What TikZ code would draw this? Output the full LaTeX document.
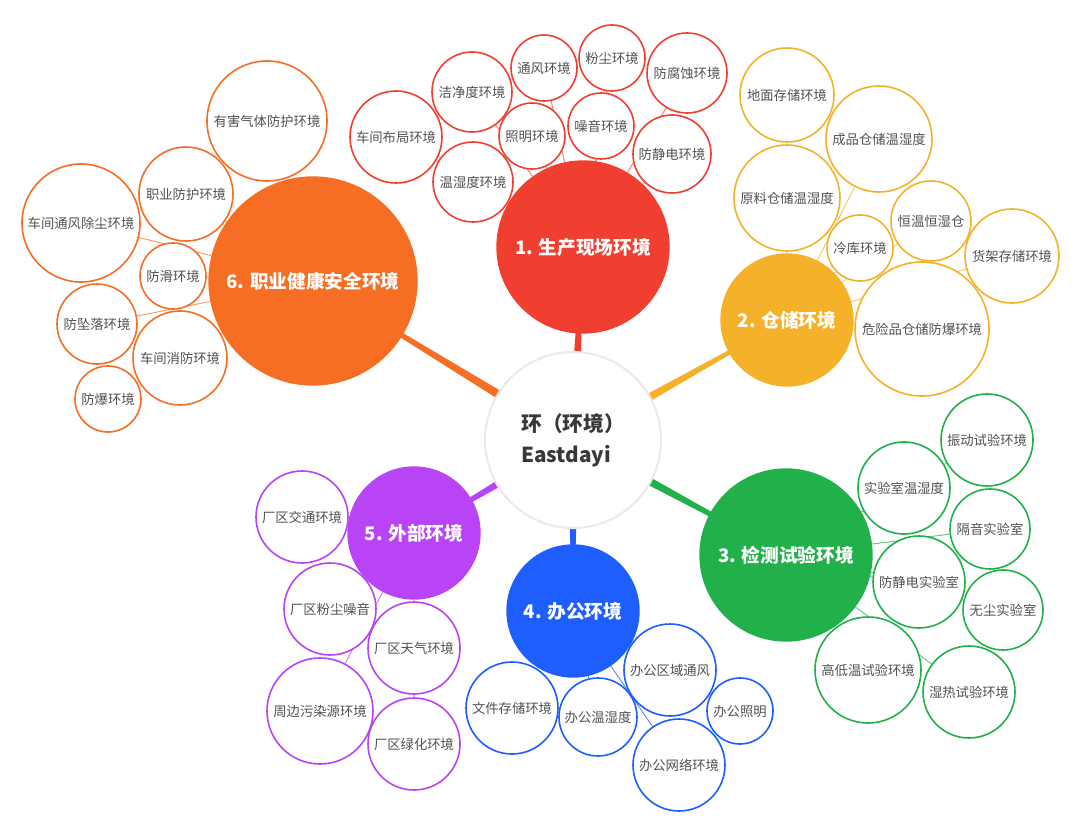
\documentclass[tikz,border=0pt]{standalone}
\usepackage{fontspec}
\setmainfont{Noto Sans CJK SC}
\usetikzlibrary{calc}
\pgfdeclarelayer{bg}
\pgfsetlayers{bg,main}

\definecolor{redc}{RGB}{240,62,48}
\definecolor{ylwc}{RGB}{245,177,41}
\definecolor{grnc}{RGB}{34,176,75}
\definecolor{bluc}{RGB}{30,94,255}
\definecolor{purc}{RGB}{185,68,245}
\definecolor{orgc}{RGB}{245,110,35}
\definecolor{rimc}{RGB}{240,232,236}

\begin{document}
\begin{tikzpicture}[
        x=0.75pt, y=-0.75pt,
        % Stili per i nodi
        root/.style={circle, fill=white, draw=rimc, line width=1.6pt, minimum size=132pt, inner sep=0pt, align=left, text=black!78, font=\bfseries\fontsize{15.5}{23}\selectfont},
        branch/.style={circle, fill=#1, inner sep=0pt, text=white, font=\bfseries\fontsize{14}{16}\selectfont},
        leaf/.style={circle, fill=white, draw=#1, line width=1.2pt, inner sep=0pt, text=black!68, font=\fontsize{10}{12}\selectfont},
        % Stili per i collegamenti
        twig/.style={draw=#1!70, line width=0.7pt}
    ]

    \begin{pgfonlayer}{bg}
    \fill[white] (0,0) rectangle (1080,837);
    \end{pgfonlayer}
    \useasboundingbox (0,0) rectangle (1080,837);

    % --- ROOT ---
    \node[root] (root) at (573,440) {环（环境）\\Eastdayi};

    % --- BRANCHES ---
    \node[branch=redc, minimum size=130pt] (b1) at (583,247) {1. 生产现场环境};
    \node[branch=ylwc, minimum size=100pt] (b2) at (787,320) {2. 仓储环境};
    \node[branch=grnc, minimum size=130pt] (b3) at (786,555) {3. 检测试验环境};
    \node[branch=bluc, minimum size=100pt] (b4) at (573,611) {4. 办公环境};
    \node[branch=purc, minimum size=100pt] (b5) at (414,533) {5. 外部环境};
    \node[branch=orgc, minimum size=157pt] (b6) at (313,281) {6. 职业健康安全环境};

    % --- TAPERED LINKS ---
    \begin{pgfonlayer}{bg}
    \foreach \b/\c in {b1/redc, b2/ylwc, b3/grnc, b4/bluc, b5/purc, b6/orgc} {
        \fill[\c] ($(root.center)!4pt!90:(\b.center)$) -- ($(root.center)!4pt!-90:(\b.center)$)
            -- ($(\b.center)!0.8pt!90:(root.center)$) -- ($(\b.center)!0.8pt!-90:(root.center)$) -- cycle;
    }
    \end{pgfonlayer}

    % --- 1. PRODUCTION ---
    \foreach \x/\y/\r/\t [count=\i] in {
        396/137/46/车间布局环境, 472/92/40/洁净度环境, 473/182/40/温湿度环境,
        544/68/33/通风环境, 532/136/33/照明环境, 612/58/33/粉尘环境,
        601/126/33/噪音环境, 687/73/40/防腐蚀环境, 672/154/39/防静电环境} {
        \node[leaf=redc, minimum size=\r*1.5pt] (p\i) at (\x,\y) {\t};
        \begin{pgfonlayer}{bg}\draw[twig=redc] (b1) -- (p\i);\end{pgfonlayer}
    }

    % --- 2. STORAGE ---
    \foreach \x/\y/\r/\t [count=\i] in {
        787/95/47/地面存储环境, 879/139/53/成品仓储温湿度, 787/198/53/原料仓储温湿度,
        860/248/33/冷库环境, 931/221/40/恒温恒湿仓, 1012/256/47/货架存储环境,
        922/329/67/危险品仓储防爆环境} {
        \node[leaf=ylwc, minimum size=\r*1.5pt] (s\i) at (\x,\y) {\t};
        \begin{pgfonlayer}{bg}\draw[twig=ylwc] (b2) -- (s\i);\end{pgfonlayer}
    }

    % --- 3. TESTING ---
    \foreach \x/\y/\r/\t [count=\i] in {
        987/440/46/振动试验环境, 904/488/46/实验室温湿度, 990/529/40/隔音实验室,
        919/582/46/防静电实验室, 1003/610/40/无尘实验室, 868/670/53/高低温试验环境,
        969/692/46/湿热试验环境} {
        \node[leaf=grnc, minimum size=\r*1.5pt] (t\i) at (\x,\y) {\t};
        \begin{pgfonlayer}{bg}\draw[twig=grnc] (b3) -- (t\i);\end{pgfonlayer}
    }

    % --- 4. OFFICE ---
    \foreach \x/\y/\r/\t [count=\i] in {
        512/708/46/文件存储环境, 598/717/39/办公温湿度, 670/670/46/办公区域通风,
        740/711/33/办公照明, 679/765/46/办公网络环境} {
        \node[leaf=bluc, minimum size=\r*1.5pt] (o\i) at (\x,\y) {\t};
        \begin{pgfonlayer}{bg}\draw[twig=bluc] (b4) -- (o\i);\end{pgfonlayer}
    }

    % --- 5. EXTERNAL ---
    \foreach \x/\y/\r/\t [count=\i] in {
        302/517/46/厂区交通环境, 330/609/46/厂区粉尘噪音, 414/648/46/厂区天气环境,
        320/711/53/周边污染源环境, 414/744/46/厂区绿化环境} {
        \node[leaf=purc, minimum size=\r*1.5pt] (e\i) at (\x,\y) {\t};
        \begin{pgfonlayer}{bg}\draw[twig=purc] (b5) -- (e\i);\end{pgfonlayer}
    }

    % --- 6. HEALTH AND SAFETY ---
    \foreach \x/\y/\r/\t [count=\i] in {
        267/121/60/有害气体防护环境, 186/194/47/职业防护环境, 81/223/59/车间通风除尘环境,
        173/276/33/防滑环境, 97/324/40/防坠落环境, 180/358/47/车间消防环境,
        108/399/33/防爆环境} {
        \node[leaf=orgc, minimum size=\r*1.5pt] (h\i) at (\x,\y) {\t};
        \begin{pgfonlayer}{bg}\draw[twig=orgc] (b6) -- (h\i);\end{pgfonlayer}
    }

\end{tikzpicture}
\end{document}
